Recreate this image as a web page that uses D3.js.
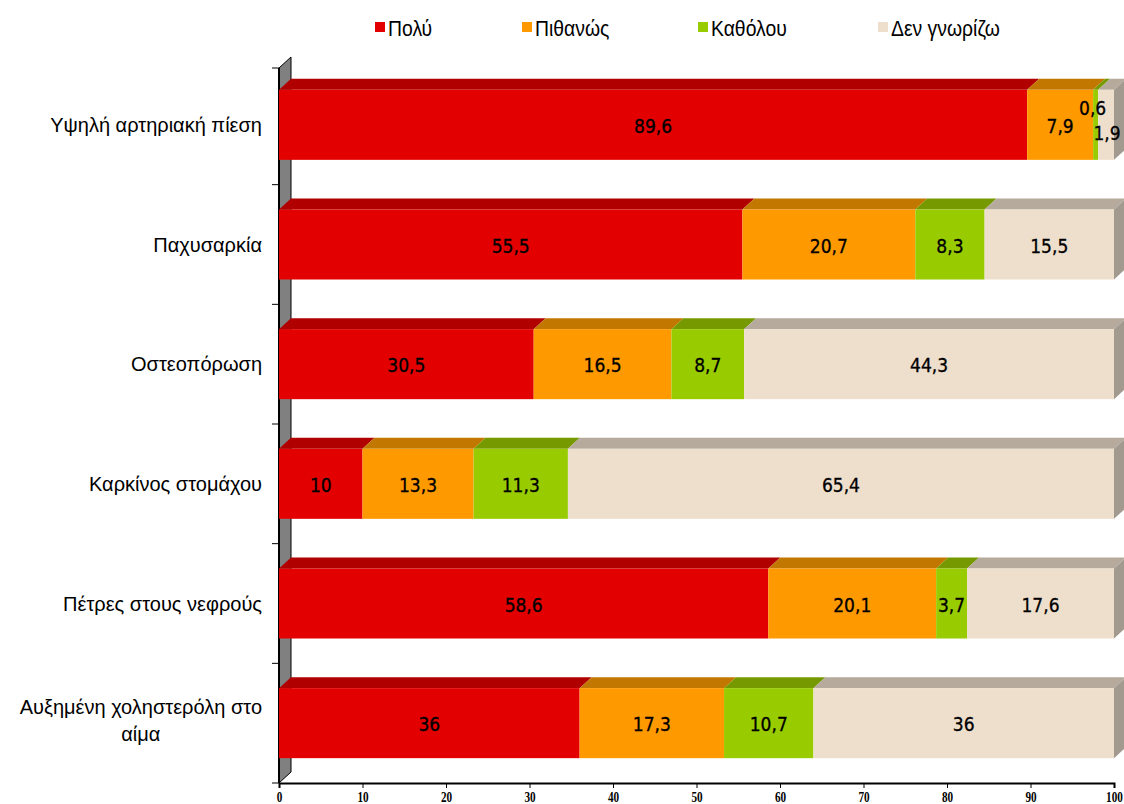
<!DOCTYPE html>
<html><head><meta charset="utf-8">
<script src="https://cdn.jsdelivr.net/npm/d3@7"></script>
<style>
body{margin:0;background:#fff;}
svg{display:block;}
</style></head>
<body><svg id="c" width="1124" height="804"></svg>
<script>
const categories = ["Υψηλή αρτηριακή πίεση","Παχυσαρκία","Οστεοπόρωση","Καρκίνος στομάχου","Πέτρες στους νεφρούς","Αυξημένη χοληστερόλη στο αίμα"];
const seriesNames = ["Πολύ","Πιθανώς","Καθόλου","Δεν γνωρίζω"];
const poly     = [89.6,55.5,30.5,10,58.6,36];
const pithanos = [7.9,20.7,16.5,13.3,20.1,17.3];
const katholou = [0.6,8.3,8.7,11.3,3.7,10.7];
const dengn    = [1.9,15.5,44.3,65.4,17.6,36];
const xTicks = [0,10,20,30,40,50,60,70,80,90,100];

const series = [poly,pithanos,katholou,dengn];
const front = ["#e20000","#ff9900","#99cc00","#eedfcc"];
const topC  = ["#b00000","#c27800","#779900","#b5aa9c"];
const sideC = "#a39a8f";
const DX = 12, DY = -11;

const svg = d3.select("#c");
const x = d3.scaleLinear().domain([0,100]).range([279,1114]);
const y = d3.scaleBand().domain(categories).range([65,783]).paddingInner(0.415).paddingOuter(0.2075);

// wall
const y0 = 65, y1 = 783;
svg.append("path")
  .attr("d",`M${x(0)},${y0+3} L${x(0)+DX},${y0+3+DY} L${x(0)+DX},${y1+DY} L${x(0)},${y1} Z`)
  .attr("fill","#808080").attr("stroke","#000").attr("stroke-width",1);
svg.append("line").attr("x1",x(0)).attr("x2",x(0)).attr("y1",y0+3).attr("y2",y1)
  .attr("stroke","#000").attr("stroke-width",2);
const bounds = categories.map(c=>y(c)-y.step()*y.paddingInner()/2).concat([y1]);
svg.selectAll(".ct").data(bounds).join("line")
  .attr("x1",x(0)-7).attr("x2",x(0)).attr("y1",d=>d===bounds[0]?y0+3:d).attr("y2",d=>d===bounds[0]?y0+3:d)
  .attr("stroke","#000").attr("stroke-width",1);

// stacked data
const rows = categories.map((c,i)=>({cat:c, vals:series.map(s=>s[i])}));
const segs = [];
rows.forEach((r,i)=>{
  let acc=0;
  r.vals.forEach((v,k)=>{ segs.push({cat:r.cat,k,v,a:acc,b:acc+v,i,last:k===r.vals.length-1}); acc+=v; });
});

const g = svg.append("g");
g.selectAll(".top").data(segs).join("path")
  .attr("d",d=>{const yy=y(d.cat), xa=x(d.a), xb=x(d.b);
    return `M${xa},${yy} L${xa+DX},${yy+DY} L${xb+DX},${yy+DY} L${xb},${yy} Z`;})
  .attr("fill",d=>topC[d.k]);
g.selectAll(".front").data(segs).join("rect")
  .attr("x",d=>x(d.a)).attr("y",d=>y(d.cat)).attr("width",d=>x(d.b)-x(d.a)).attr("height",y.bandwidth())
  .attr("fill",d=>front[d.k]);
g.selectAll(".side").data(segs.filter(d=>d.last)).join("path")
  .attr("d",d=>{const yy=y(d.cat), xb=x(d.b), h=y.bandwidth();
    return `M${xb},${yy} L${xb+DX},${yy+DY} L${xb+DX},${yy+h+DY} L${xb},${yy+h} Z`;})
  .attr("fill",sideC);

// value labels
const fmt = v=>String(v).replace(".",",");
g.selectAll(".val").data(segs).join("text")
  .attr("x",d=>{let cx=(x(d.a)+x(d.b))/2; if(d.i===0&&d.k===2) cx-=3; if(d.i===0&&d.k===3) cx+=1; return cx;})
  .attr("y",d=>{let cy=y(d.cat)+y.bandwidth()/2+8; if(d.i===0&&d.k===2) cy-=18; if(d.i===0&&d.k===3) cy+=7; return cy;})
  .attr("text-anchor","middle")
  .attr("font-family","'DejaVu Sans Condensed','DejaVu Sans',sans-serif").attr("font-size",19)
  .attr("fill","#000").attr("stroke","#000").attr("stroke-width",0.3).text(d=>fmt(d.v));

// category labels
const labG = svg.append("g").attr("font-family","'Liberation Sans',Arial,sans-serif").attr("font-size",20).attr("fill","#000");
categories.forEach(c=>{
  const cy = y(c)+y.bandwidth()/2;
  const words = c.split(" ");
  const t = labG.append("text").attr("text-anchor","end").attr("x",262).attr("y",cy+7).text(c);
  if (t.node().getComputedTextLength()>255){
    t.remove();
    const l1 = words.slice(0,-1).join(" "), l2 = words[words.length-1];
    const a = labG.append("text").attr("text-anchor","middle").attr("y",cy-9.5).text(l1);
    const w = a.node().getComputedTextLength();
    a.attr("x",262-w/2);
    labG.append("text").attr("text-anchor","middle").attr("x",262-w/2).attr("y",cy+17.5).text(l2);
  }
});

// x axis
const ax = svg.append("g").attr("transform",`translate(0,${y1})`)
  .call(d3.axisBottom(x).tickValues(xTicks).tickSize(5).tickFormat(d3.format("d")));
ax.select(".domain").attr("stroke","#000").attr("stroke-width",2);
ax.selectAll(".tick line").attr("stroke","#000");
ax.selectAll("text").attr("font-family","'Liberation Serif','Times New Roman',serif").attr("font-weight","bold")
  .attr("font-size",14).attr("dy",null).attr("y",19).attr("transform","scale(0.8,1)").attr("fill","#000");

// legend
const legX = [375,522,698,878];
const lg = svg.append("g").attr("font-family","'Liberation Sans',Arial,sans-serif").attr("font-size",22);
seriesNames.forEach((n,k)=>{
  lg.append("rect").attr("x",legX[k]).attr("y",22).attr("width",10).attr("height",10).attr("fill",front[k]);
  lg.append("text").attr("transform",`translate(${legX[k]+13},36) scale(0.88,1)`).text(n);
});
</script></body></html>
